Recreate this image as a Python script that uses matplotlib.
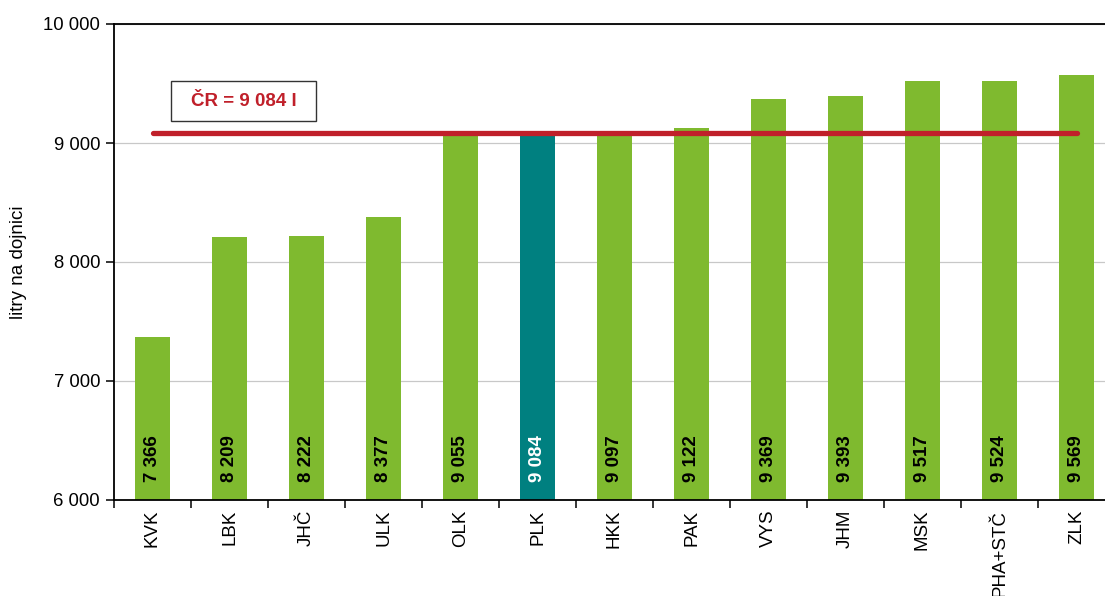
import matplotlib
matplotlib.use("Agg")
import matplotlib.pyplot as plt
from matplotlib.patches import Rectangle

plt.rcParams['font.family'] = ['Liberation Sans', 'DejaVu Sans']

categories = ["KVK", "LBK", "JHČ", "ULK", "OLK", "PLK", "HKK", "PAK", "VYS", "JHM", "MSK", "PHA+STČ", "ZLK"]
values = [7366, 8209, 8222, 8377, 9055, 9084, 9097, 9122, 9369, 9393, 9517, 9524, 9569]
highlight = "PLK"
cr_value = 9084
cr_label = "ČR = 9 084 l"
ylabel = "litry na dojnici"
yticks = [6000, 7000, 8000, 9000, 10000]

def fmt(v):
    return f"{v:,}".replace(",", " ")

GREEN = "#7FBA2F"
TEAL = "#008080"
RED = "#C0202A"

W, H = 1105, 596
fig = plt.figure(figsize=(W / 100, H / 100), dpi=100)
ax = fig.add_axes([114 / W, 96 / H, 1001 / W, 476 / H])

pos = list(range(len(categories)))
colors = [TEAL if c == highlight else GREEN for c in categories]
ax.bar(pos, [v - 6000 for v in values], bottom=6000, width=0.45, color=colors, zorder=2)

ax.set_xlim(-0.5, len(categories) - 0.5)
ax.set_ylim(6000, 10000)
ax.set_yticks(yticks)
ax.set_yticklabels([fmt(t) for t in yticks], fontsize=13.3)
ax.yaxis.grid(True, color="#C8C8C8", linewidth=0.9, zorder=0)
ax.set_axisbelow(True)

# x ticks at boundaries, labels at centers
ax.set_xticks([p - 0.5 for p in pos] + [len(categories) - 0.5])
ax.set_xticklabels([])
ax.set_xticks(pos, minor=True)
ax.set_xticklabels(categories, minor=True, rotation=90, fontsize=13.5)
ax.tick_params(axis='x', which='minor', length=0, pad=7)
ax.tick_params(axis='x', which='major', length=6, width=1.1, direction='out')
ax.tick_params(axis='y', length=6, width=1.1, direction='out', pad=4)

for s in ['left', 'bottom', 'top']:
    ax.spines[s].set_linewidth(1.3)
    ax.spines[s].set_color("black")
ax.spines['right'].set_visible(False)

ax.set_ylabel(ylabel, fontsize=13.5, labelpad=12)

for p, v, c in zip(pos, values, categories):
    ax.annotate(fmt(v), xy=(p, 6000), xytext=(0, 13), textcoords='offset points',
                rotation=90, ha='center', va='bottom', fontsize=13.5, fontweight='bold',
                color='white' if c == highlight else 'black', zorder=3)

ax.plot([pos[0], pos[-1]], [cr_value, cr_value], color=RED, linewidth=3.8,
        solid_capstyle='round', zorder=4)

fig.patches.append(Rectangle((171 / W, 1 - 121 / H), 145 / W, 40 / H, transform=fig.transFigure,
                             facecolor='white', edgecolor='#333333', linewidth=1.0, zorder=5))
fig.text(243.5 / W, 1 - 101 / H, cr_label, ha='center', va='center', color=RED,
         fontsize=13.5, fontweight='bold', zorder=6)

fig.savefig("out.png", dpi=100)
